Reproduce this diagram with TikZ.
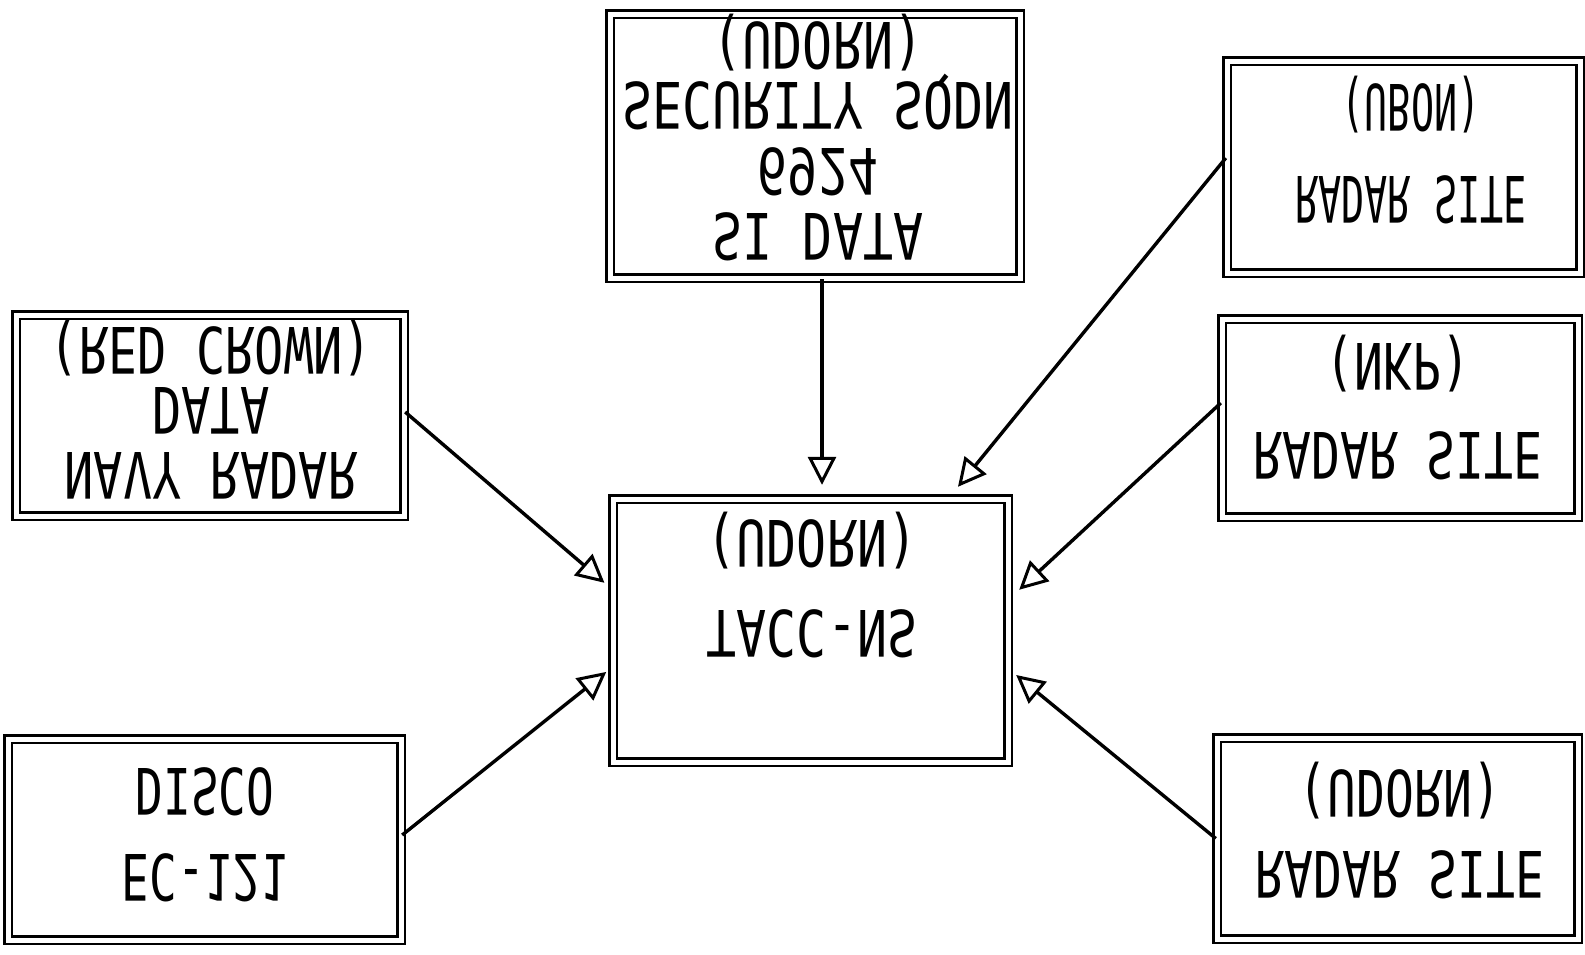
\documentclass[tikz,border=0pt]{standalone}
\usepackage{fontspec}
\usepackage{graphicx}
\usetikzlibrary{arrows.meta}
\newfontfamily\stencilfont{DejaVu Sans Mono}
\newcommand\fliptext[2][0.78]{\scalebox{#1}[-1]{\begin{tabular}{@{}c@{}}#2\end{tabular}}}
\newcommand\pl[1]{\raisebox{0pt}[40pt][10pt]{#1}}
\begin{document}
\begin{tikzpicture}[x=1pt,y=-1pt,
  box/.style={draw=black, line width=2.4pt, double=white, double distance=5pt, rectangle, inner sep=0pt},
  lbl/.style={font=\stencilfont\fontsize{64}{60}\selectfont, inner sep=0pt, text=black},
  arr/.style={draw=black, line width=3.4pt, -{Triangle[open, length=28pt, width=28pt, line width=3pt]}}]
\useasboundingbox[fill=white] (0,0) rectangle (1585,954);

% boxes
\node[box, minimum width=410pt, minimum height=264pt] (si) at (815,146) {};
\node[box, minimum width=395pt, minimum height=263pt] (tacc) at (810.5,630.5) {};
\node[box, minimum width=388pt, minimum height=201pt] (navy) at (210,415.5) {};
\node[box, minimum width=393pt, minimum height=201pt] (ec) at (204.5,839.5) {};
\node[box, minimum width=353pt, minimum height=212pt] (ubon) at (1403.5,167) {};
\node[box, minimum width=356pt, minimum height=198pt] (nkp) at (1400,418) {};
\node[box, minimum width=361pt, minimum height=201pt] (udorn) at (1397.5,838.5) {};

% texts (printed mirrored top-to-bottom)
\node[lbl] (sitext) at (818,133) {\fliptext{SI DATA\\6924\\SECURITY SQDN\\\pl{(UDORN)}}};
\node[lbl] (tacctext) at (812,580) {\fliptext{TACC-NS\\[30pt]\pl{(UDORN)}}};
\node[lbl] (navytext) at (211,404) {\fliptext[0.76]{NAVY RADAR\\DATA\\\pl{(RED CROWN)}}};
\node[lbl] (ectext) at (205,826) {\fliptext[0.72]{EC-121\\[20pt]DISCO}};
\node[lbl] (ubontext) at (1411,145) {\fliptext[0.6]{RADAR SITE\\[32pt]\pl{(UBON)}}};
\node[lbl] (nkptext) at (1398,403) {\fliptext[0.75]{RADAR SITE\\[29pt]\pl{(NKP)}}};
\node[lbl] (udorntext) at (1400,826) {\fliptext[0.75]{RADAR SITE\\[21pt]\pl{(UDORN)}}};

% connectors
\draw[arr, line width=4.5pt, shorten >=13pt] ([xshift=7pt]si.south) -- ([xshift=11.5pt]tacc.north);
\draw[arr, shorten >=9.7pt] ([yshift=3.5pt]navy.east) -- ([yshift=41.4pt]tacc.west);
\draw[arr, shorten >=7.1pt] ([yshift=4.5pt]ec.east) -- ([yshift=-37pt]tacc.west);
\draw[arr, shorten >=14.2pt] ([yshift=9pt]ubon.west) -- ([xshift=138.5pt]tacc.north);
\draw[arr, shorten >=13.6pt] ([yshift=15pt]nkp.west) -- ([yshift=31.5pt]tacc.east);
\draw[arr, shorten >=9pt] (udorn.west) -- ([yshift=-38.8pt]tacc.east);
\end{tikzpicture}
\end{document}
